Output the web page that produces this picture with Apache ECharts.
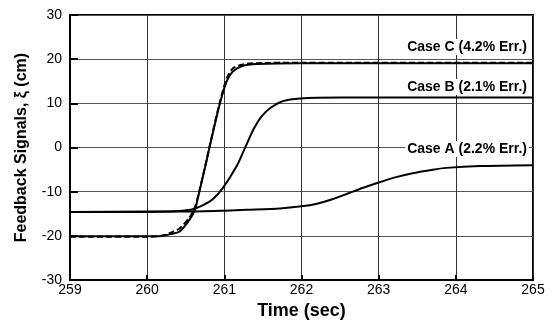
<!DOCTYPE html>
<html>
<head>
<meta charset="utf-8">
<script src="https://cdn.jsdelivr.net/npm/echarts@6/dist/echarts.min.js"></script>
<style>
  html, body { margin: 0; padding: 0; background: #fff; }
  #chart { width: 555px; height: 325px; }
</style>
</head>
<body>
<div id="chart"></div>
<script>
// Case C (measured, solid)
const timeC = [259, 260.0, 260.19, 260.30, 260.42, 260.55, 260.62, 260.68, 260.77, 260.81, 260.94, 261.03, 261.11, 261.24, 261.42, 261.98, 263, 264, 265]
const valC = [-20.1, -20.1, -20.0, -19.6, -19.0, -16.3, -14.0, -9.7, -3.0, 0.2, 9.8, 15.0, 17.2, 18.5, 18.9, 19.1, 19.1, 19.1, 19.1]

// Case C (second trace, dashed)
const timeC2 = [259, 260.0, 260.2, 260.3, 260.42, 260.55, 260.62, 260.68, 260.77, 260.81, 260.94, 261.03, 261.11, 261.24, 261.42, 261.98, 265]
const valC2 = [-20.2, -20.2, -19.9, -19.3, -18.3, -15.8, -13.5, -9.5, -2.8, 0.4, 10.2, 15.6, 17.9, 18.8, 19.1, 19.2, 19.2]

// Case B
const timeB = [259, 260.0, 260.3, 260.45, 260.58, 260.72, 260.85, 260.98, 261.16, 261.27, 261.38, 261.48, 261.6, 261.76, 261.98, 262.5, 263, 264, 265]
const valB = [-14.6, -14.6, -14.5, -14.3, -14.0, -13.1, -11.7, -9.2, -4.2, 0.0, 4.2, 7.0, 9.0, 10.5, 11.1, 11.3, 11.3, 11.3, 11.3]

// Case A
const timeA = [259, 260, 260.5, 261.0, 261.29, 261.72, 262.0, 262.2, 262.4, 262.6, 262.8, 263.0, 263.2, 263.44, 263.7, 263.88, 264.31, 265]
const valA = [-14.6, -14.5, -14.5, -14.3, -14.1, -13.8, -13.3, -12.7, -11.7, -10.4, -9.1, -7.9, -6.8, -5.8, -5.0, -4.6, -4.2, -4.0]

const xTicks = [259, 260, 261, 262, 263, 264, 265]
const yTicks = [-30, -20, -10, 0, 10, 20, 30]

const caseLabels = ['Case C (4.2% Err.)', 'Case B (2.1% Err.)', 'Case A (2.2% Err.)']

const pairs = (ts, vs) => ts.map((t, i) => [t, vs[i]])

const lineSeries = (name, ts, vs, type) => ({
  name: name,
  type: 'line',
  data: pairs(ts, vs),
  smooth: 0.25,
  showSymbol: false,
  lineStyle: { color: '#000', width: 2, type: type || 'solid' },
  z: 5
})

const labelText = (text, top) => ({
  type: 'text',
  right: 26,
  top: top,
  z: 10,
  style: {
    text: text,
    font: 'bold 14px Liberation Sans, Arial',
    fill: '#000',
    backgroundColor: '#fff',
    padding: [1, 2]
  }
})

const chart = echarts.init(document.getElementById('chart'))

chart.setOption({
  animation: false,
  backgroundColor: '#fff',
  textStyle: { fontFamily: 'Liberation Sans, Arial, sans-serif', color: '#000' },
  grid: {
    left: 70, right: 22, top: 15, bottom: 37,
    show: true, borderColor: '#000', borderWidth: 2
  },
  xAxis: {
    type: 'value',
    min: xTicks[0], max: xTicks[xTicks.length - 1], interval: 1,
    name: 'Time (sec)',
    nameLocation: 'middle',
    nameGap: 17,
    nameTextStyle: { fontSize: 18, fontWeight: 'bold', color: '#000' },
    axisLine: { onZero: false, lineStyle: { color: '#000', width: 2 } },
    axisTick: { inside: true, length: 5, lineStyle: { color: '#000', width: 2 } },
    axisLabel: { fontSize: 14, color: '#000', margin: 3 },
    splitLine: { lineStyle: { color: '#333', width: 1 } }
  },
  yAxis: {
    type: 'value',
    min: yTicks[0], max: yTicks[yTicks.length - 1], interval: 10,
    name: 'Feedback Signals, ξ (cm)',
    nameLocation: 'middle',
    nameGap: 40,
    nameTextStyle: { fontSize: 16, fontWeight: 'bold', color: '#000' },
    axisLine: { onZero: false, lineStyle: { color: '#000', width: 2 } },
    axisTick: { inside: true, length: 8, lineStyle: { color: '#000', width: 2 } },
    axisLabel: { fontSize: 14, color: '#000', margin: 8 },
    splitLine: { lineStyle: { color: '#555', width: 1 } }
  },
  graphic: [
    labelText(caseLabels[0], 39),
    labelText(caseLabels[1], 79),
    labelText(caseLabels[2], 141)
  ],
  series: [
    lineSeries('Case C', timeC, valC),
    lineSeries('Case C dashed', timeC2, valC2, [6, 3]),
    lineSeries('Case B', timeB, valB),
    lineSeries('Case A', timeA, valA)
  ]
})
</script>
</body>
</html>
